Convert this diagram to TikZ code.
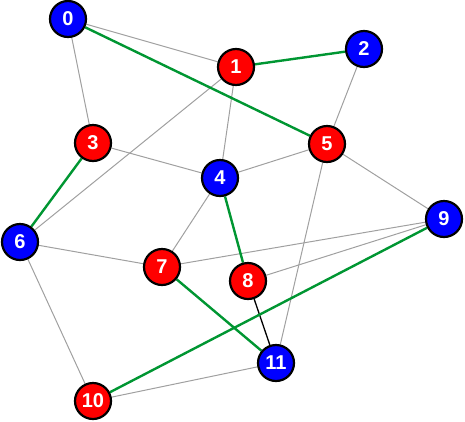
\documentclass[tikz,border=0pt]{standalone}
\usepackage{fontspec}
\setmainfont{Liberation Sans}
\usetikzlibrary{backgrounds}
\definecolor{egreen}{RGB}{0,150,50}
\definecolor{egray}{RGB}{160,160,160}
\tikzset{
  vtx/.style={circle, draw=black, line width=2.2pt, minimum size=36pt, inner sep=0pt, text=white, font=\fontsize{20}{20}\selectfont\bfseries},
  rv/.style={vtx, fill=red},
  bv/.style={vtx, fill=blue},
  ge/.style={draw=egray, line width=1pt},
  gr/.style={draw=egreen, line width=2.4pt},
  bk/.style={draw=black, line width=1.3pt}
}
\begin{document}
\begin{tikzpicture}[x=1pt,y=-1pt]
\useasboundingbox (0,0) rectangle (465,421);
\node[bv] (n0) at (68,19) {0};
\node[rv] (n1) at (236,67) {1};
\node[bv] (n2) at (364,49) {2};
\node[rv] (n3) at (93,143) {3};
\node[bv] (n4) at (220,178) {4};
\node[rv] (n5) at (327,144) {5};
\node[bv] (n6) at (20,242) {6};
\node[rv] (n7) at (162,267) {7};
\node[rv] (n8) at (248,281) {8};
\node[bv] (n9) at (444,219) {9};
\node[rv] (n10) at (93,401) {10};
\node[bv] (n11) at (276,363) {11};
\begin{scope}[on background layer]
\path[ge] (n0) -- (n1);
\path[ge] (n0) -- (n3);
\path[ge] (n1) -- (n4);
\path[ge] (n1) -- (n6);
\path[ge] (n2) -- (n5);
\path[ge] (n3) -- (n4);
\path[ge] (n4) -- (n5);
\path[ge] (n4) -- (n7);
\path[ge] (n5) -- (n9);
\path[ge] (n5) -- (n11);
\path[ge] (n6) -- (n7);
\path[ge] (n6) -- (n10);
\path[ge] (n7) -- (n9);
\path[ge] (n8) -- (n9);
\path[ge] (n10) -- (n11);
\path[bk] (n8) -- (n11);
\path[gr] (n0) -- (n5);
\path[gr] (n1) -- (n2);
\path[gr] (n3) -- (n6);
\path[gr] (n4) -- (n8);
\path[gr] (n7) -- (n11);
\path[gr] (n9) -- (n10);
\end{scope}
\end{tikzpicture}
\end{document}
